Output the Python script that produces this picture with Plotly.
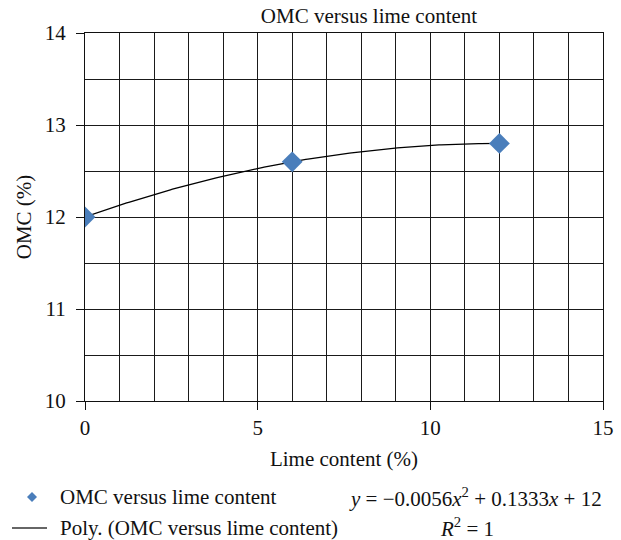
import numpy as np
import plotly.graph_objects as go

lime = [0, 6, 12]
omc = [12.0, 12.6, 12.8]
x_ticks = [0, 5, 10, 15]
y_ticks = [10, 11, 12, 13, 14]

coef = np.polyfit(lime, omc, 2)
xf = np.linspace(min(lime), max(lime), 200)
yf = np.polyval(coef, xf)

FONT = "Liberation Serif"
FS = 21
C = "#111"
W, H = 621, 540
L, R, T, B = 85, 18, 33, 139
PW, PH = W - L - R, H - T - B


def px(x):
    return (x - L) / PW


def py(y):
    return (H - B - y) / PH


fig = go.Figure()
fig.add_trace(go.Scatter(x=xf, y=yf, mode="lines", name="Poly. (OMC versus lime content)",
                         line=dict(color="black", width=1.3), showlegend=False))
fig.add_trace(go.Scatter(x=lime, y=omc, mode="markers", name="OMC versus lime content",
                         marker=dict(symbol="diamond", size=16, color="#4A7EBB",
                                     line=dict(width=0)), showlegend=False))

fig.update_layout(
    width=W, height=H,
    margin=dict(l=L, r=R, t=T, b=B, autoexpand=False),
    paper_bgcolor="white", plot_bgcolor="white",
    font=dict(family=FONT, size=FS, color=C),
    title=dict(text="OMC versus lime content", x=369 / W, xanchor="center",
               xref="container", y=1 - 16 / H, yanchor="middle", yref="container",
               font=dict(family=FONT, size=FS, color=C)),
    showlegend=False,
)
axis_common = dict(ticks="outside", ticklen=8, tickcolor=C, tickwidth=1,
                   showline=True, linecolor=C, linewidth=1, mirror=True,
                   showgrid=True, gridcolor="#1a1a1a", gridwidth=1, zeroline=False,
                   automargin=False, tickfont=dict(family=FONT, size=FS, color=C))
fig.update_xaxes(range=[0, 15], tickvals=x_ticks,
                 minor=dict(dtick=1, showgrid=True, gridcolor="#1a1a1a", gridwidth=1, ticks=""),
                 title=dict(text="Lime content (%)", standoff=12,
                            font=dict(family=FONT, size=FS, color=C)),
                 **axis_common)
fig.update_yaxes(range=[10, 14], tickvals=y_ticks, ticklabelstandoff=6,
                 minor=dict(dtick=0.5, showgrid=True, gridcolor="#1a1a1a", gridwidth=1, ticks=""),
                 title=dict(text="OMC (%)", standoff=7,
                            font=dict(family=FONT, size=FS, color=C)),
                 **axis_common)

# legend (drawn manually)
fig.add_shape(type="path", xref="paper", yref="paper",
              path=f"M {px(27)} {py(497)} L {px(32)} {py(492)} L {px(37)} {py(497)} L {px(32)} {py(502)} Z",
              fillcolor="#4A7EBB", line=dict(width=0))
fig.add_shape(type="line", xref="paper", yref="paper",
              x0=px(12), x1=px(47), y0=py(528), y1=py(528),
              line=dict(color="#333", width=1.3))
fig.add_annotation(text="OMC versus lime content", xref="paper", yref="paper",
                   x=px(58), y=py(497), xanchor="left", yanchor="middle",
                   showarrow=False, font=dict(family=FONT, size=FS, color=C))
fig.add_annotation(text="Poly. (OMC versus lime content)", xref="paper", yref="paper",
                   x=px(58), y=py(528), xanchor="left", yanchor="middle",
                   showarrow=False, font=dict(family=FONT, size=FS, color=C))

fig.add_annotation(text="<i>y</i> = −0.0056<i>x</i><sup>2</sup> + 0.1333<i>x</i> + 12",
                   xref="paper", yref="paper", x=px(347), y=py(497),
                   xanchor="left", yanchor="middle",
                   showarrow=False, font=dict(family=FONT, size=FS, color=C))
fig.add_annotation(text="<i>R</i><sup>2</sup> = 1",
                   xref="paper", yref="paper", x=px(438), y=py(527),
                   xanchor="left", yanchor="middle",
                   showarrow=False, font=dict(family=FONT, size=FS, color=C))

fig.write_html("out.html")
